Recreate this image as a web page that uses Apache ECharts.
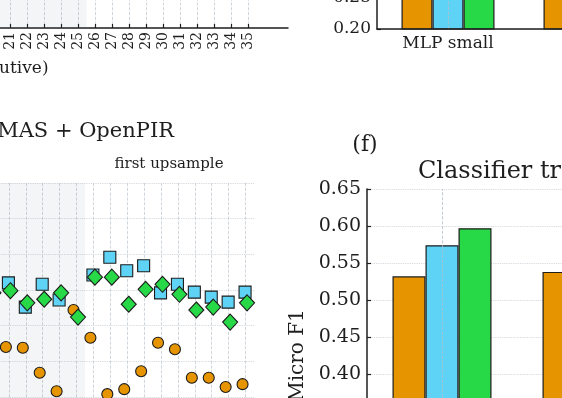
<!DOCTYPE html>
<html>
<head>
<meta charset="utf-8">
<script src="https://cdn.jsdelivr.net/npm/echarts@6/dist/echarts.min.js"></script>
<style>
html, body { margin: 0; padding: 0; background: #fff; }
#chart { width: 562px; height: 398px; }
</style>
</head>
<body>
<div id="chart"></div>
<script>
// epochs along the left panels (20 is just off the left edge)
var epochs = [20, 21, 22, 23, 24, 25, 26, 27, 28, 29, 30, 31, 32, 33, 34, 35];
var tickEpochs = [21, 22, 23, 24, 25, 26, 27, 28, 29, 30, 31, 32, 33, 34, 35];
var upsampleEnd = 25.5;

// MAS + OpenPIR scores per epoch
var circleVals  = [0.372, 0.370, 0.369, 0.334, 0.308, 0.422, 0.383, 0.304, 0.311, 0.336, 0.376, 0.367, 0.327, 0.327, 0.314, 0.318];
var squareVals  = [0.455, 0.460, 0.426, 0.458, 0.436, null,  0.471, 0.496, 0.477, 0.484, 0.446, 0.458, 0.447, 0.440, 0.433, 0.447];
var diamondVals = [0.446, 0.449, 0.432, 0.437, 0.446, 0.412, 0.468, 0.468, 0.430, 0.451, 0.458, 0.444, 0.422, 0.426, 0.405, 0.432];

// upper bar panel
var topCats = ['MLP small', 'Linear', 'SVM'];
var topOrange = [0.50, 0.52, 0.46];
var topBlue   = [0.54, 0.55, 0.49];
var topGreen  = [0.56, 0.57, 0.50];

// (f) classifier bars
var f1Cats = ['MLP small', 'Linear', 'SVM'];
var f1Orange = [0.532, 0.538, 0.470];
var f1Blue   = [0.574, 0.580, 0.500];
var f1Green  = [0.597, 0.600, 0.520];

var FONT = 'DejaVu Serif';
var INK = '#1e1e1e';
var ORANGE = '#e69500', BLUE = '#5fd3f6', GREEN = '#27d947', EDGE = '#1c1c1c';

function pairs(vals) {
  var out = [];
  for (var i = 0; i < epochs.length; i++) {
    if (vals[i] != null) out.push([epochs[i], vals[i]]);
  }
  return out;
}
function f2(v) { return v.toFixed(2); }

var shade = {
  silent: true,
  itemStyle: { color: 'rgba(110,125,140,0.08)' },
  data: [[{ xAxis: 20 }, { xAxis: upsampleEnd }]]
};
var axisInk = { color: INK, width: 1.5 };
var tickInk = { color: INK, width: 1.2 };
var vGrid = { type: 'dashed', color: '#c3cbd3', width: 0.8 };
var hGrid = { type: 'dotted', color: '#cdd3d9', width: 0.9 };

var chart = echarts.init(document.getElementById('chart'));
chart.setOption({
  animation: false,
  grid: [
    { left: -7, top: -60, width: 295, height: 88, outerBoundsMode: 'none' },
    { left: -8, top: 183, width: 262, height: 321, outerBoundsMode: 'none' },
    { left: 377, top: -250, width: 426, height: 279, outerBoundsMode: 'none' },
    { left: 367, top: 189, width: 450, height: 333, outerBoundsMode: 'none' }
  ],
  xAxis: [
    {
      gridIndex: 0, type: 'value', min: 20, max: 37.35, interval: 1,
      axisLine: { lineStyle: axisInk },
      axisTick: { inside: true, length: 4, customValues: tickEpochs, lineStyle: tickInk },
      axisLabel: { customValues: tickEpochs, rotate: 90, margin: 4, fontFamily: FONT, fontSize: 14, color: INK },
      splitLine: { show: true, lineStyle: vGrid }
    },
    {
      gridIndex: 1, type: 'value', min: 20, max: 35.5, interval: 1,
      axisLine: { show: false },
      axisTick: { show: false, customValues: epochs },
      axisLabel: { show: false },
      splitLine: { show: true, lineStyle: vGrid }
    },
    {
      gridIndex: 2, type: 'category', data: topCats, z: 5,
      axisLine: { lineStyle: axisInk },
      axisTick: { inside: true, alignWithLabel: true, length: 4, lineStyle: tickInk },
      axisLabel: { margin: 6, fontFamily: FONT, fontSize: 17, color: INK },
      splitLine: { show: false }
    },
    {
      gridIndex: 3, type: 'category', data: f1Cats,
      axisLine: { lineStyle: axisInk },
      axisTick: { inside: true, alignWithLabel: true, length: 4, lineStyle: tickInk },
      axisLabel: { margin: 6, fontFamily: FONT, fontSize: 17, color: INK },
      splitLine: { show: false }
    }
  ],
  yAxis: [
    { gridIndex: 0, type: 'value', show: false, min: 0, max: 1 },
    {
      gridIndex: 1, type: 'value', min: 0.15, max: 0.60, interval: 0.05,
      axisLine: { show: false }, axisTick: { show: false }, axisLabel: { show: false },
      splitLine: { show: true, lineStyle: hGrid }
    },
    {
      gridIndex: 2, type: 'value', min: 0.20, max: 0.65, interval: 0.05,
      axisLine: { show: true, lineStyle: axisInk },
      axisTick: { show: true, inside: true, length: 4, lineStyle: tickInk },
      axisLabel: { formatter: f2, margin: 6, fontFamily: FONT, fontSize: 17, color: INK },
      splitLine: { show: true, lineStyle: hGrid }
    },
    {
      gridIndex: 3, type: 'value', min: 0.20, max: 0.65, interval: 0.05,
      name: 'Micro F1', nameLocation: 'middle', nameGap: 57,
      nameTextStyle: { fontFamily: FONT, fontSize: 20, color: INK },
      axisLine: { show: true, lineStyle: axisInk },
      axisTick: { show: true, inside: true, length: 4, lineStyle: tickInk },
      axisLabel: { formatter: f2, margin: 6, fontFamily: FONT, fontSize: 19, color: INK },
      splitLine: { show: true, lineStyle: hGrid }
    }
  ],
  series: [
    { type: 'scatter', xAxisIndex: 0, yAxisIndex: 0, data: [], markArea: shade },
    {
      type: 'scatter', xAxisIndex: 1, yAxisIndex: 1, data: pairs(circleVals),
      symbol: 'circle', symbolSize: 11, symbolOffset: [-3, 0],
      itemStyle: { color: ORANGE, borderColor: EDGE, borderWidth: 1.1, opacity: 1 },
      markArea: shade
    },
    {
      type: 'scatter', xAxisIndex: 1, yAxisIndex: 1, data: pairs(squareVals),
      symbol: 'rect', symbolSize: 12, symbolOffset: [-0.5, 0],
      itemStyle: { color: BLUE, borderColor: EDGE, borderWidth: 1.1, opacity: 1 }
    },
    {
      type: 'scatter', xAxisIndex: 1, yAxisIndex: 1, data: pairs(diamondVals),
      symbol: 'diamond', symbolSize: [15, 16], symbolOffset: [1.5, 0],
      itemStyle: { color: GREEN, borderColor: EDGE, borderWidth: 1.1, opacity: 1 }
    },
    {
      type: 'bar', xAxisIndex: 2, yAxisIndex: 2, data: topOrange, barWidth: 31, barGap: '0%',
      itemStyle: { color: ORANGE, borderColor: EDGE, borderWidth: 1.2 }
    },
    {
      type: 'bar', xAxisIndex: 2, yAxisIndex: 2, data: topBlue, barWidth: 31, barGap: '0%',
      itemStyle: { color: BLUE, borderColor: EDGE, borderWidth: 1.2 },
      markLine: {
        silent: true, symbol: 'none', label: { show: false },
        lineStyle: { type: 'dashed', color: '#b3c0cb', width: 0.8 },
        data: topCats.map(function (c) { return { xAxis: c }; })
      }
    },
    {
      type: 'bar', xAxisIndex: 2, yAxisIndex: 2, data: topGreen, barWidth: 31, barGap: '0%',
      itemStyle: { color: GREEN, borderColor: EDGE, borderWidth: 1.2 }
    },
    {
      type: 'bar', xAxisIndex: 3, yAxisIndex: 3, data: f1Orange, barWidth: 33, barGap: '0%',
      itemStyle: { color: ORANGE, borderColor: EDGE, borderWidth: 1.2 }
    },
    {
      type: 'bar', xAxisIndex: 3, yAxisIndex: 3, data: f1Blue, barWidth: 33, barGap: '0%',
      itemStyle: { color: BLUE, borderColor: EDGE, borderWidth: 1.2 },
      markLine: {
        silent: true, symbol: 'none', label: { show: false },
        lineStyle: { type: 'dashed', color: '#b3c0cb', width: 0.8 },
        data: f1Cats.map(function (c) { return { xAxis: c }; })
      }
    },
    {
      type: 'bar', xAxisIndex: 3, yAxisIndex: 3, data: f1Green, barWidth: 33, barGap: '0%',
      itemStyle: { color: GREEN, borderColor: EDGE, borderWidth: 1.2 }
    }
  ],
  graphic: [
    { type: 'text', x: -1, y: 69, style: { text: 'utive)', font: '17px "DejaVu Serif"', fill: INK, align: 'left', verticalAlign: 'middle' } },
    { type: 'text', x: 174, y: 132, style: { text: 'MAS + OpenPIR', font: '21px "DejaVu Serif"', fill: INK, align: 'right', verticalAlign: 'middle' } },
    { type: 'text', x: 169, y: 164, style: { text: 'first upsample', font: '15px "DejaVu Serif"', fill: INK, align: 'center', verticalAlign: 'middle' } },
    { type: 'text', x: 365, y: 145, style: { text: '(f)', font: '22px "DejaVu Serif"', fill: INK, align: 'center', verticalAlign: 'middle' } },
    { type: 'text', x: 418, y: 172, style: { text: 'Classifier tr', font: '24px "DejaVu Serif"', fill: INK, align: 'left', verticalAlign: 'middle' } }
  ]
});
</script>
</body>
</html>
